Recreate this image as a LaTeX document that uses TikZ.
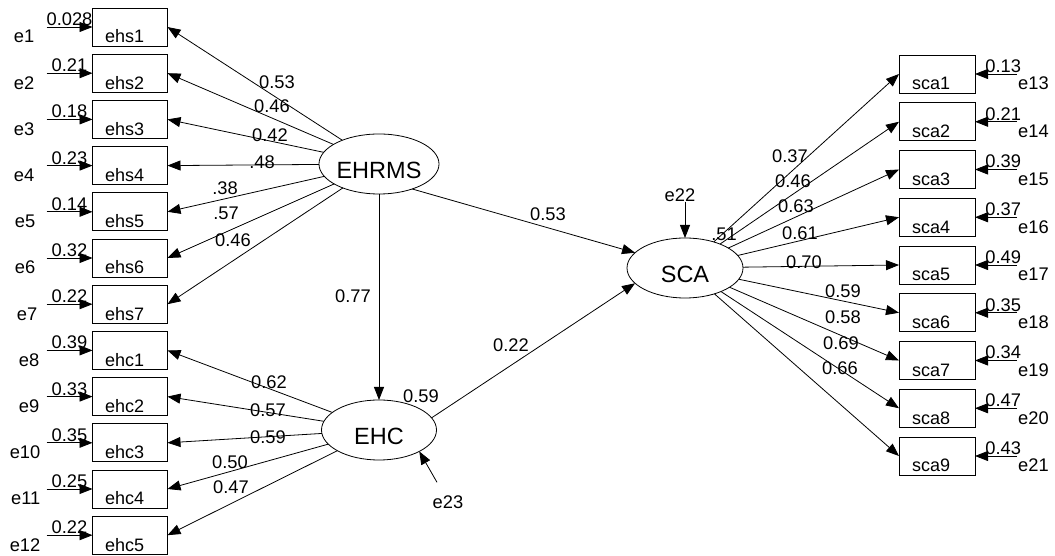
\documentclass[tikz,border=0pt]{standalone}
\usepackage{fontspec}
\setmainfont{Liberation Sans}
\usetikzlibrary{arrows.meta,positioning,shapes.geometric,calc}
\tikzset{
 box/.style={draw, line width=.8pt, minimum width=75pt, minimum height=38pt, inner sep=0pt, outer sep=0pt,
             text width=50pt, align=left, text height=35pt, text depth=3pt, font=\fontsize{18}{20}\selectfont},
 latent/.style={draw, ellipse, line width=.8pt, minimum width=115pt, minimum height=60pt, inner sep=0pt, outer sep=0pt,
                text height=29pt, text depth=0pt, font=\fontsize{23.5}{27}\selectfont},
 arr/.style={-{Triangle[length=13pt,width=10pt]}, line width=.8pt},
 num/.style={inner sep=0pt, font=\fontsize{18.3}{20}\selectfont},
 err/.style={inner sep=0pt, font=\fontsize{18.3}{20}\selectfont}
}
\begin{document}
\begin{tikzpicture}[x=1pt, y=1pt]
\useasboundingbox (0,0) rectangle (1055,556);

% latent variables
\node[latent] (EHRMS) at (379,392) {EHRMS};
\node[latent] (EHC) at (379,126) {EHC};
\node[latent, minimum width=116pt] (SCA) at (685,288) {SCA};

% EHRMS indicators
\node[box] (ehs1) at (130,529) {ehs1};
\node[box, below=8.2pt of ehs1] (ehs2) {ehs2};
\node[box, below=8.2pt of ehs2] (ehs3) {ehs3};
\node[box, below=8.2pt of ehs3] (ehs4) {ehs4};
\node[box, below=8.2pt of ehs4] (ehs5) {ehs5};
\node[box, below=8.2pt of ehs5] (ehs6) {ehs6};
\node[box, below=8.2pt of ehs6] (ehs7) {ehs7};
% EHC indicators
\node[box, below=8.2pt of ehs7] (ehc1) {ehc1};
\node[box, below=8.2pt of ehc1] (ehc2) {ehc2};
\node[box, below=8.2pt of ehc2] (ehc3) {ehc3};
\node[box, below=8.2pt of ehc3] (ehc4) {ehc4};
\node[box, below=8.2pt of ehc4] (ehc5) {ehc5};
% SCA indicators
\node[box, minimum width=76pt] (sca1) at (937,482) {sca1};
\node[box, minimum width=76pt, below=9.75pt of sca1] (sca2) {sca2};
\node[box, minimum width=76pt, below=9.75pt of sca2] (sca3) {sca3};
\node[box, minimum width=76pt, below=9.75pt of sca3] (sca4) {sca4};
\node[box, minimum width=76pt, below=9.75pt of sca4] (sca5) {sca5};
\node[box, minimum width=76pt, below=9.75pt of sca5] (sca6) {sca6};
\node[box, minimum width=76pt, below=9.75pt of sca6] (sca7) {sca7};
\node[box, minimum width=76pt, below=9.75pt of sca7] (sca8) {sca8};
\node[box, minimum width=76pt, below=9.75pt of sca8] (sca9) {sca9};

% error terms, left
\coordinate (s1) at ($(ehs1.west)+(-46pt,0)$);
\coordinate (s2) at ($(ehs2.west)+(-46pt,0)$);
\coordinate (s3) at ($(ehs3.west)+(-46pt,0)$);
\coordinate (s4) at ($(ehs4.west)+(-46pt,0)$);
\coordinate (s5) at ($(ehs5.west)+(-46pt,0)$);
\coordinate (s6) at ($(ehs6.west)+(-46pt,0)$);
\coordinate (s7) at ($(ehs7.west)+(-46pt,0)$);
\coordinate (s8) at ($(ehc1.west)+(-46pt,0)$);
\coordinate (s9) at ($(ehc2.west)+(-46pt,0)$);
\coordinate (s10) at ($(ehc3.west)+(-46pt,0)$);
\coordinate (s11) at ($(ehc4.west)+(-46pt,0)$);
\coordinate (s12) at ($(ehc5.west)+(-46pt,0)$);
\node[err, anchor=base east] (e1) at ($(s1)+(-12pt,-16pt)$) {e1};
\node[err, anchor=base east] (e2) at ($(s2)+(-12pt,-16pt)$) {e2};
\node[err, anchor=base east] (e3) at ($(s3)+(-12pt,-16pt)$) {e3};
\node[err, anchor=base east] (e4) at ($(s4)+(-12pt,-16pt)$) {e4};
\node[err, anchor=base east] (e5) at ($(s5)+(-11pt,-16pt)$) {e5};
\node[err, anchor=base east] (e6) at ($(s6)+(-11pt,-16pt)$) {e6};
\node[err, anchor=base east] (e7) at ($(s7)+(-9pt,-16pt)$) {e7};
\node[err, anchor=base east] (e8) at ($(s8)+(-7pt,-16pt)$) {e8};
\node[err, anchor=base east] (e9) at ($(s9)+(-7pt,-16pt)$) {e9};
\node[err, anchor=base east] (e10) at ($(s10)+(-6pt,-16pt)$) {e10};
\node[err, anchor=base east] (e11) at ($(s11)+(-6pt,-16pt)$) {e11};
\node[err, anchor=base east] (e12) at ($(s12)+(-6pt,-16pt)$) {e12};
\draw[arr] (s1) -- node[num, above=1pt] (v1) {0.028} (ehs1);
\draw[arr] (s2) -- node[num, above=1pt] (v2) {0.21} (ehs2);
\draw[arr] (s3) -- node[num, above=1pt] (v3) {0.18} (ehs3);
\draw[arr] (s4) -- node[num, above=1pt] (v4) {0.23} (ehs4);
\draw[arr] (s5) -- node[num, above=1pt] (v5) {0.14} (ehs5);
\draw[arr] (s6) -- node[num, above=1pt] (v6) {0.32} (ehs6);
\draw[arr] (s7) -- node[num, above=1pt] (v7) {0.22} (ehs7);
\draw[arr] (s8) -- node[num, above=1pt] (v8) {0.39} (ehc1);
\draw[arr] (s9) -- node[num, above=1pt] (v9) {0.33} (ehc2);
\draw[arr] (s10) -- node[num, above=1pt] (v10) {0.35} (ehc3);
\draw[arr] (s11) -- node[num, above=1pt] (v11) {0.25} (ehc4);
\draw[arr] (s12) -- node[num, above=1pt] (v12) {0.22} (ehc5);

% error terms, right
\coordinate (s13) at ($(sca1.east)+(42pt,0)$);
\coordinate (s14) at ($(sca2.east)+(42pt,0)$);
\coordinate (s15) at ($(sca3.east)+(42pt,0)$);
\coordinate (s16) at ($(sca4.east)+(42pt,0)$);
\coordinate (s17) at ($(sca5.east)+(42pt,0)$);
\coordinate (s18) at ($(sca6.east)+(42pt,0)$);
\coordinate (s19) at ($(sca7.east)+(42pt,0)$);
\coordinate (s20) at ($(sca8.east)+(42pt,0)$);
\coordinate (s21) at ($(sca9.east)+(42pt,0)$);
\node[err, anchor=base west] (e13) at ($(s13)+(1pt,-16pt)$) {e13};
\node[err, anchor=base west] (e14) at ($(s14)+(1pt,-16pt)$) {e14};
\node[err, anchor=base west] (e15) at ($(s15)+(1pt,-16pt)$) {e15};
\node[err, anchor=base west] (e16) at ($(s16)+(1pt,-16pt)$) {e16};
\node[err, anchor=base west] (e17) at ($(s17)+(1pt,-16pt)$) {e17};
\node[err, anchor=base west] (e18) at ($(s18)+(1pt,-16pt)$) {e18};
\node[err, anchor=base west] (e19) at ($(s19)+(1pt,-16pt)$) {e19};
\node[err, anchor=base west] (e20) at ($(s20)+(1pt,-16pt)$) {e20};
\node[err, anchor=base west] (e21) at ($(s21)+(1pt,-16pt)$) {e21};
\draw[arr] (s13) -- node[num, above=1pt, pos=.33] (v13) {0.13} (sca1);
\draw[arr] (s14) -- node[num, above=1pt, pos=.33] (v14) {0.21} (sca2);
\draw[arr] (s15) -- node[num, above=1pt, pos=.33] (v15) {0.39} (sca3);
\draw[arr] (s16) -- node[num, above=1pt, pos=.33] (v16) {0.37} (sca4);
\draw[arr] (s17) -- node[num, above=1pt, pos=.33] (v17) {0.49} (sca5);
\draw[arr] (s18) -- node[num, above=1pt, pos=.33] (v18) {0.35} (sca6);
\draw[arr] (s19) -- node[num, above=1pt, pos=.33] (v19) {0.34} (sca7);
\draw[arr] (s20) -- node[num, above=1pt, pos=.33] (v20) {0.47} (sca8);
\draw[arr] (s21) -- node[num, above=1pt, pos=.33] (v21) {0.43} (sca9);

% loadings
\draw[arr] (EHRMS) -- (ehs1.east);
\draw[arr] (EHRMS) -- (ehs2.east);
\draw[arr] (EHRMS) -- (ehs3.east);
\draw[arr] (EHRMS) -- (ehs4.east);
\draw[arr] (EHRMS) -- (ehs5.east);
\draw[arr] (EHRMS) -- (ehs6.east);
\draw[arr] (EHRMS) -- (ehs7.east);
\draw[arr] (EHC) -- (ehc1.east);
\draw[arr] (EHC) -- (ehc2.east);
\draw[arr] (EHC) -- (ehc3.east);
\draw[arr] (EHC) -- (ehc4.east);
\draw[arr] (EHC) -- (ehc5.east);
\draw[arr] (SCA) -- (sca1.west);
\draw[arr] (SCA) -- (sca2.west);
\draw[arr] (SCA) -- (sca3.west);
\draw[arr] (SCA) -- (sca4.west);
\draw[arr] (SCA) -- (sca5.west);
\draw[arr] (SCA) -- (sca6.west);
\draw[arr] (SCA) -- (sca7.west);
\draw[arr] (SCA) -- (sca8.west);
\draw[arr] (SCA) -- (sca9.west);
\node[num] (l1) at (277,474) {0.53};
\node[num] (l2) at (272,450) {0.46};
\node[num] (l3) at (270,421) {0.42};
\node[num] (l4) at (262,394) {.48};
\node[num] (l5) at (225,368) {.38};
\node[num] (l6) at (226,343) {.57};
\node[num] (l7) at (233,316) {0.46};
\node[num] (l8) at (269,174) {0.62};
\node[num] (l9) at (268,146) {0.57};
\node[num] (l10) at (268,119) {0.59};
\node[num] (l11) at (230,94) {0.50};
\node[num] (l12) at (231,69) {0.47};
\node[num] (l13) at (790,400) {0.37};
\node[num] (l14) at (793,375) {0.46};
\node[num] (l15) at (796,350) {0.63};
\node[num] (l16) at (800,323) {0.61};
\node[num] (l17) at (804,294) {0.70};
\node[num] (l18) at (843,265) {0.59};
\node[num] (l19) at (843,239) {0.58};
\node[num] (l20) at (841,213) {0.69};
\node[num] (l21) at (840,188) {0.66};

% structural paths
\draw[arr] (EHRMS) -- (EHC);
\draw[arr] (EHRMS.-37) -- (SCA.163);
\draw[arr] (EHC.13) -- (SCA.197);
\node[num] (p1) at (353,260) {0.77};
\node[num] (p2) at (548,342) {0.53};
\node[num] (p3) at (511,211) {0.22};
\node[num] (r1) at (421,160) {0.59};
\node[num] (r2) at (724,322) {.51};

% disturbances
\node[err] (e22) at (680,361) {e22};
\node[err] (e23) at (448,54) {e23};
\draw[arr] (e22.south -| SCA.north) -- (SCA.north);
\draw[arr] (e23.north) ++(-11pt,13pt) -- (EHC.-28);

\end{tikzpicture}
\end{document}
